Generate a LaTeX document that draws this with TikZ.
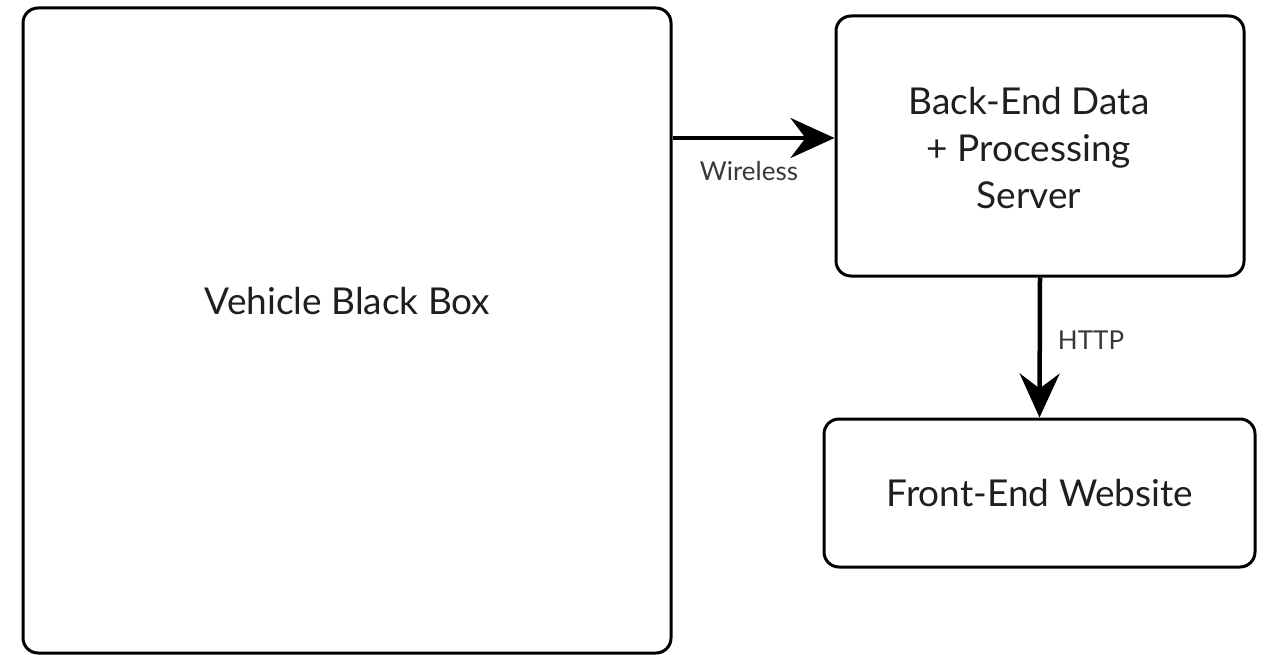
\documentclass[tikz,border=0pt]{standalone}
\usepackage{fontspec}
\setmainfont{Lato}
\usetikzlibrary{arrows.meta}
\begin{document}
\begin{tikzpicture}[x=1pt,y=-1pt,
  blk/.style={draw=black, line width=3pt, rounded corners=15pt, fill=white, inner sep=0pt, align=center},
  big/.style={font=\fontsize{37}{47}\selectfont, text=black!88},
  conn/.style={line width=4.5pt, -{Stealth[length=44pt,width=40pt,inset=15pt]}},
  lbl/.style={font=\fontsize{26}{30}\selectfont, text=black!78}]
  \useasboundingbox (0,0) rectangle (1266,655);
  % boxes
  \node[blk, minimum width=648pt, minimum height=645pt] (vbb) at (347,330.5) {};
  \node[blk, minimum width=408pt, minimum height=260pt] (be) at (1040,146) {};
  \node[blk, minimum width=431pt, minimum height=148pt] (fe) at (1039.5,493) {};
  % box texts
  \node[big] (vbbt) at (347.5,301) {Vehicle Black Box};
  \node[big, align=center] (bet) at (1029,148) {Back-End Data\\+ Processing\\Server};
  \node[big] (fet) at (1040,493) {Front-End Website};
  % connectors
  \draw[conn] ([yshift=8pt]vbb.east |- be.west) -- ([yshift=8pt]be.west);
  \draw[conn] (be.south) -- (fe.north);
  \node[lbl] (wl) at (749,171) {Wireless};
  \node[lbl] (ht) at (1091,340) {HTTP};
\end{tikzpicture}
\end{document}
